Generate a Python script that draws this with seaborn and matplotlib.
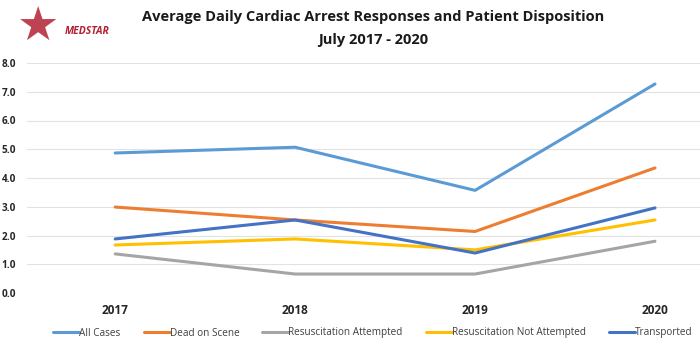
import matplotlib
matplotlib.use("Agg")
import matplotlib.pyplot as plt
import seaborn as sns
import pandas as pd
from matplotlib.lines import Line2D

years = ["2017", "2018", "2019", "2020"]
all_cases = [4.87, 5.07, 3.57, 7.27]
dead_on_scene = [2.99, 2.54, 2.14, 4.35]
resus_attempted = [1.36, 0.66, 0.66, 1.80]
resus_not_attempted = [1.67, 1.88, 1.50, 2.54]
transported = [1.88, 2.54, 1.39, 2.96]

series_names = ["All Cases", "Dead on Scene", "Resuscitation Attempted",
                "Resuscitation Not Attempted", "Transported"]
colors = ["#5B9BD5", "#ED7D31", "#A5A5A5", "#FFC000", "#4472C4"]

rows = []
for name, vals in zip(series_names, [all_cases, dead_on_scene, resus_attempted,
                                     resus_not_attempted, transported]):
    for i, (y, v) in enumerate(zip(years, vals)):
        rows.append({"idx": i, "year": y, "value": v, "series": name})
df = pd.DataFrame(rows)

sns.set_style("white")
plt.rcParams["font.family"] = ["Open Sans", "DejaVu Sans"]

fig = plt.figure(figsize=(7.0, 3.44), dpi=100)
ax = fig.add_axes([27 / 700, 1 - 293 / 344, (700 - 27) / 700, (293 - 63) / 344])

sns.lineplot(data=df, x="idx", y="value", hue="series", palette=colors,
             hue_order=series_names, linewidth=2.2, ax=ax, legend=False)

ax.set_ylim(0, 8)
ax.set_xlim(-0.49, 3.25)
ax.set_yticks([0, 1, 2, 3, 4, 5, 6, 7, 8])
ax.set_yticklabels([f"{v:.1f}" for v in range(9)], fontsize=7.2, fontweight="bold")
ax.set_xticks(range(len(years)))
ax.set_xticklabels(years, fontsize=8.5, fontweight="bold")
ax.tick_params(axis="y", length=0, pad=8)
ax.tick_params(axis="x", length=0, pad=8)
ax.grid(axis="y", color="#E2E2E2", linewidth=0.8)
for s in ax.spines.values():
    s.set_visible(False)
ax.set_xlabel("")
ax.set_ylabel("")

# Legend
handles = [Line2D([0], [0], color=c, linewidth=2.2) for c in colors]
fig.legend(handles, series_names, loc="center", bbox_to_anchor=(373 / 700, 1 - 333 / 344),
           ncol=5, frameon=False, fontsize=7.2, handlelength=2.6, handletextpad=0.0,
           columnspacing=2.3, labelcolor="#404040")

# Title
fig.text(373 / 700, 1 - 17 / 344, "Average Daily Cardiac Arrest Responses and Patient Disposition",
         ha="center", va="center", fontsize=10.5, fontweight="bold", color="#1a1a1a")
fig.text(373 / 700, 1 - 40 / 344, "July 2017 - 2020",
         ha="center", va="center", fontsize=10.5, fontweight="bold", color="#1a1a1a")

# Logo approximation
fig.text(0.055, 1 - 28 / 344, "\u2605", ha="center", va="center", fontsize=34,
         color="#B22234", family=["DejaVu Sans"], alpha=0.85)
fig.text(0.125, 1 - 31 / 344, "MEDSTAR", ha="center", va="center", fontsize=7.5,
         color="#B22234", fontweight="bold", style="italic")

fig.savefig("out.png", dpi=100)
